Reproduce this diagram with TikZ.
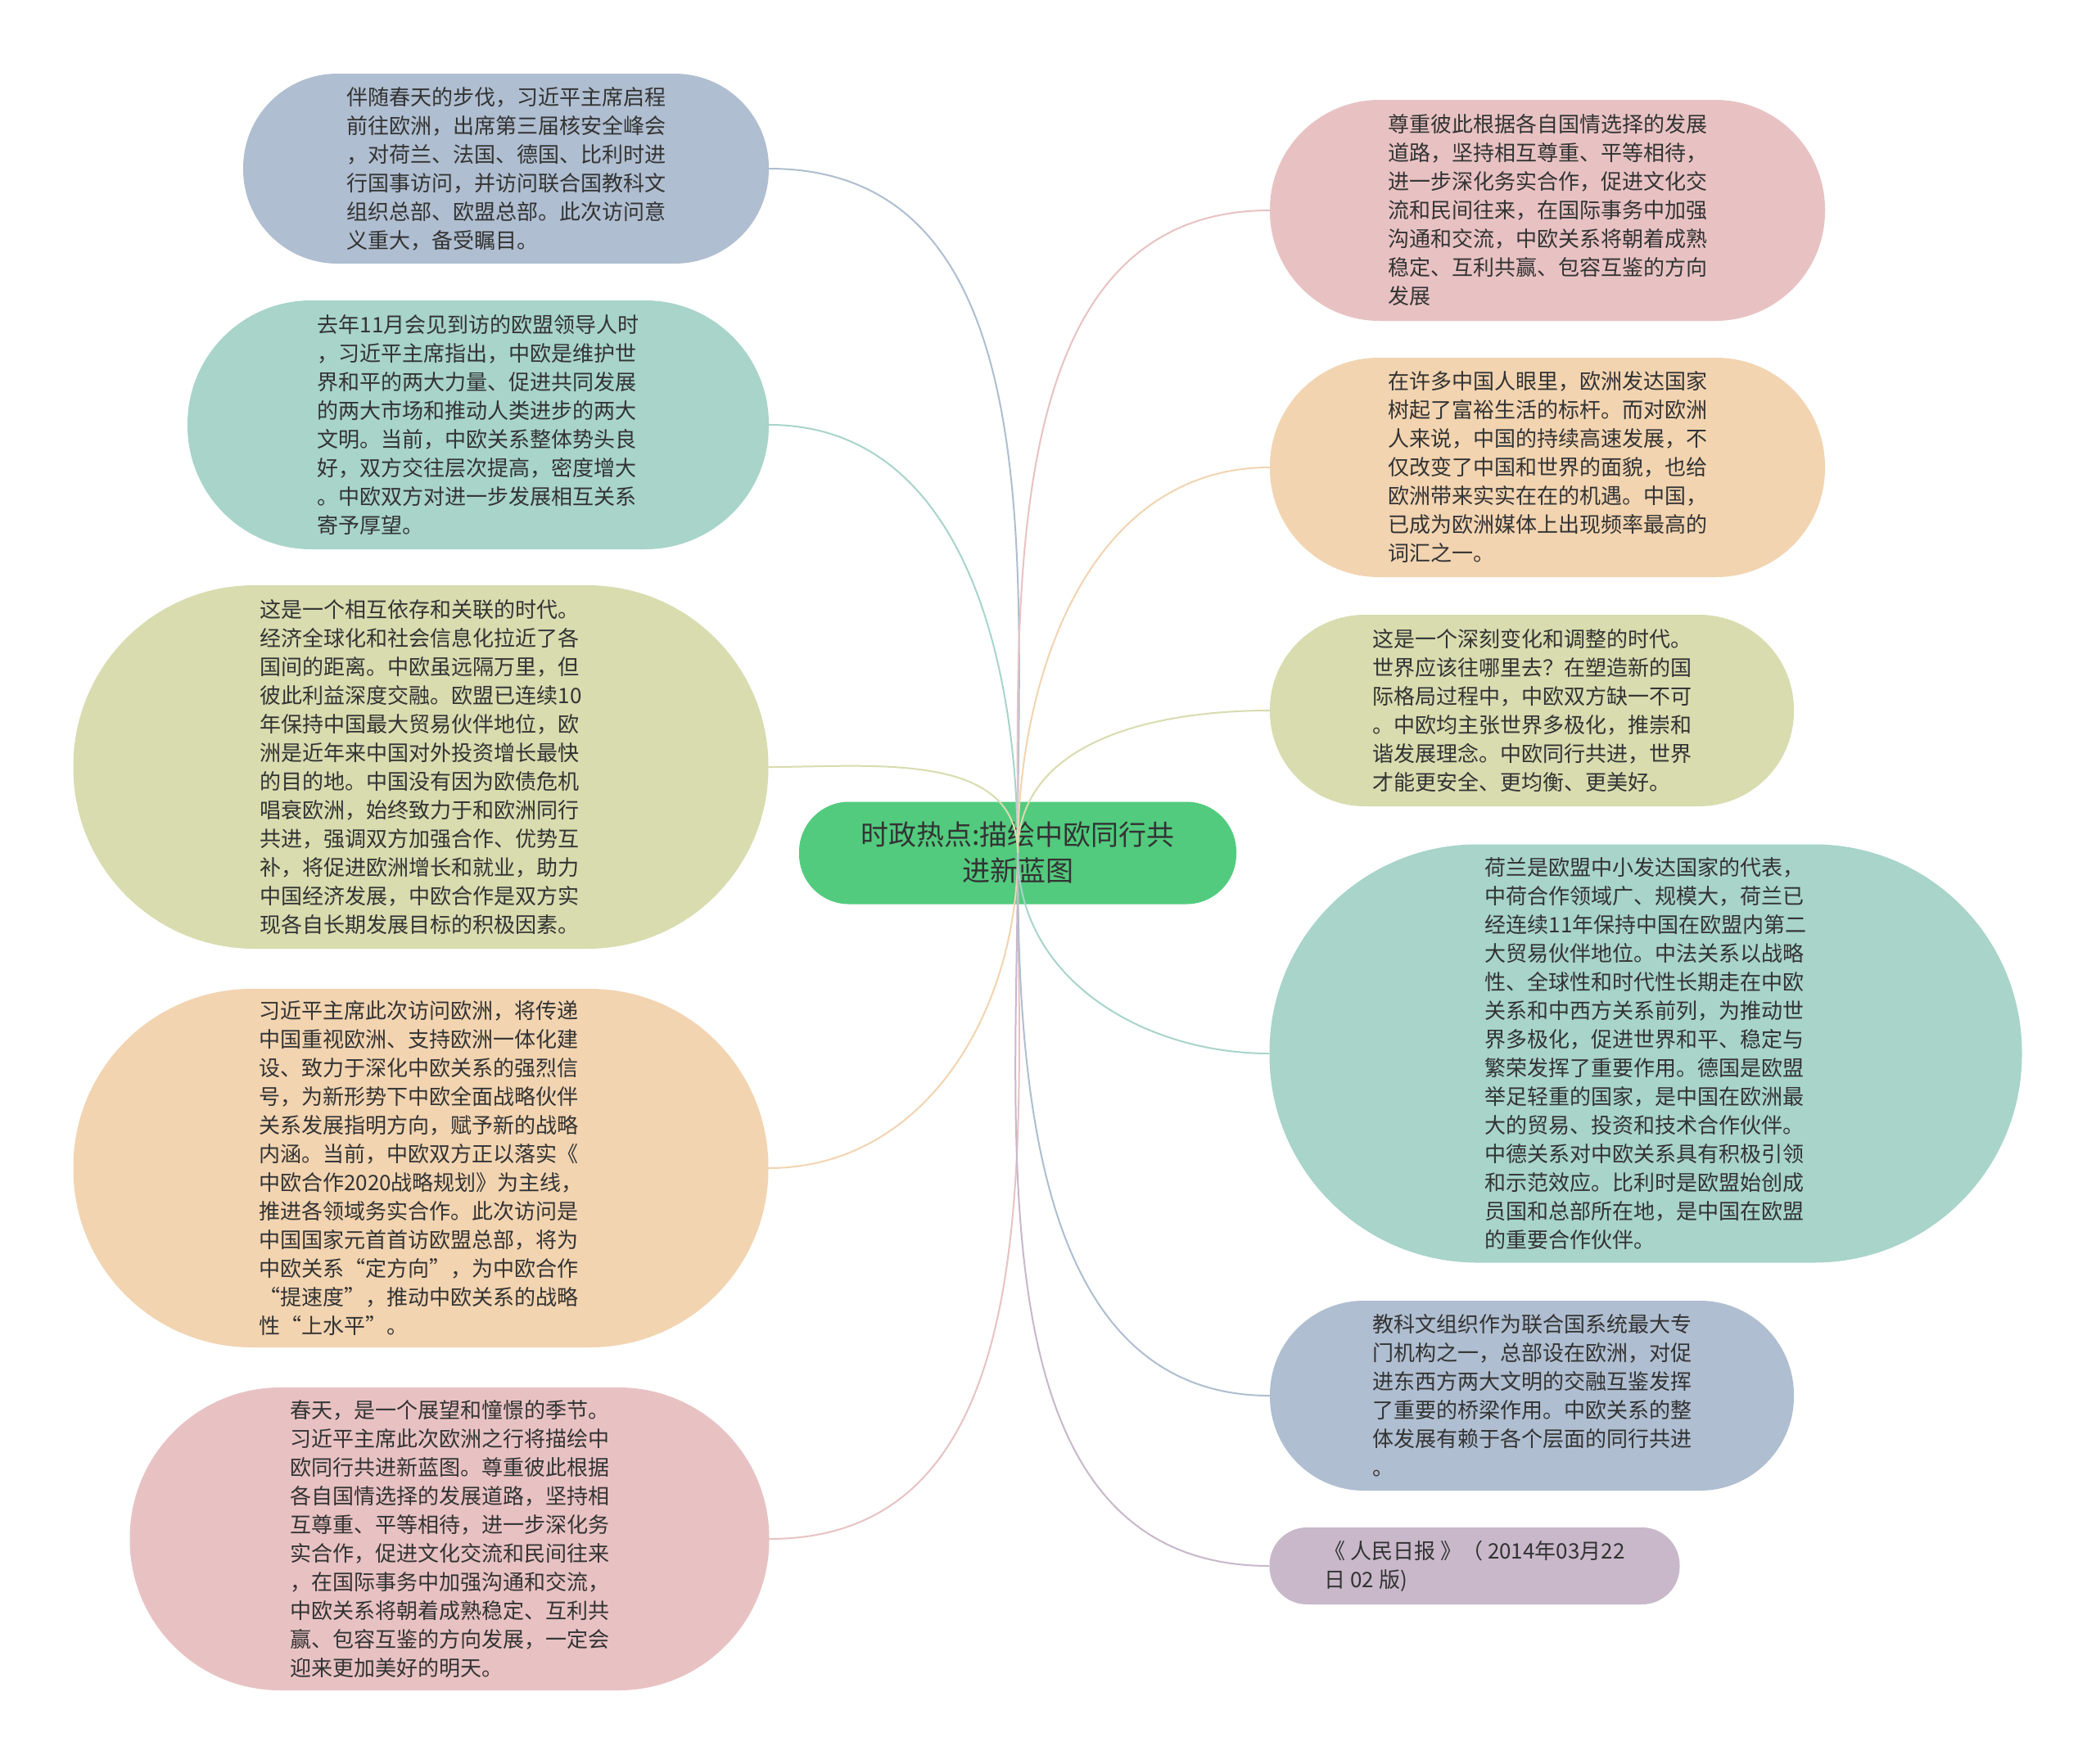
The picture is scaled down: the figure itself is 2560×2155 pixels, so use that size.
\documentclass[tikz,border=0pt]{standalone}
\usepackage{fontspec}
\setmainfont{Noto Sans CJK SC}
\definecolor{BlueGrey}{HTML}{AFBED0}
\definecolor{TealLight}{HTML}{A8D4CA}
\definecolor{OliveLight}{HTML}{D8DCAF}
\definecolor{PeachLight}{HTML}{F2D4B1}
\definecolor{PinkLight}{HTML}{E8C2C3}
\definecolor{Mauve}{HTML}{C8B8CA}
\definecolor{TopicGreen}{HTML}{52CB7E}
\definecolor{DarkGray}{HTML}{333333}
\usepackage{tikz}
\usetikzlibrary{positioning}

\begin{document}
\begin{tikzpicture}[
  x=1pt, y=-1pt,
  bubble/.style={rectangle, inner sep=0pt, align=left, text=DarkGray,
                 font=\fontsize{26}{35}\selectfont},
  topic/.style={rectangle, inner sep=0pt, align=center, text=DarkGray, fill=TopicGreen,
                font=\fontsize{34}{44}\selectfont},
  link/.style={line width=2pt}
]
  \fill[white] (0,0) rectangle (2560,2155);
  \useasboundingbox (0,0) rectangle (2560,2155);

  \node[topic, minimum width=534pt, minimum height=125pt, rounded corners=61pt] (topic) at (1243,1042)
    {时政热点:描绘中欧同行共\\进新蓝图};

  % left side
  \node[bubble, fill=BlueGrey, minimum width=642pt, minimum height=232pt, rounded corners=115pt] (left1) at (618,206)
    {伴随春天的步伐，习近平主席启程\\前往欧洲，出席第三届核安全峰会\\，对荷兰、法国、德国、比利时进\\行国事访问，并访问联合国教科文\\组织总部、欧盟总部。此次访问意\\义重大，备受瞩目。};
  \node[bubble, fill=TealLight, minimum width=710pt, minimum height=304pt, rounded corners=151pt] (left2) at (584,519)
    {去年11月会见到访的欧盟领导人时\\，习近平主席指出，中欧是维护世\\界和平的两大力量、促进共同发展\\的两大市场和推动人类进步的两大\\文明。当前，中欧关系整体势头良\\好，双方交往层次提高，密度增大\\。中欧双方对进一步发展相互关系\\寄予厚望。};
  \node[bubble, fill=OliveLight, minimum width=849pt, minimum height=444pt, rounded corners=221pt] (left3) at (514,937)
    {这是一个相互依存和关联的时代。\\经济全球化和社会信息化拉近了各\\国间的距离。中欧虽远隔万里，但\\彼此利益深度交融。欧盟已连续10\\年保持中国最大贸易伙伴地位，欧\\洲是近年来中国对外投资增长最快\\的目的地。中国没有因为欧债危机\\唱衰欧洲，始终致力于和欧洲同行\\共进，强调双方加强合作、优势互\\补，将促进欧洲增长和就业，助力\\中国经济发展，中欧合作是双方实\\现各自长期发展目标的积极因素。};
  \node[bubble, fill=PeachLight, minimum width=849pt, minimum height=438pt, rounded corners=218pt] (left4) at (514,1427)
    {习近平主席此次访问欧洲，将传递\\中国重视欧洲、支持欧洲一体化建\\设、致力于深化中欧关系的强烈信\\号，为新形势下中欧全面战略伙伴\\关系发展指明方向，赋予新的战略\\内涵。当前，中欧双方正以落实《\\中欧合作2020战略规划》为主线，\\推进各领域务实合作。此次访问是\\中国国家元首首访欧盟总部，将为\\中欧关系“定方向”，为中欧合作\\“提速度”，推动中欧关系的战略\\性“上水平”。};
  \node[bubble, fill=PinkLight, minimum width=781pt, minimum height=370pt, rounded corners=184pt] (left5) at (549,1880)
    {春天，是一个展望和憧憬的季节。\\习近平主席此次欧洲之行将描绘中\\欧同行共进新蓝图。尊重彼此根据\\各自国情选择的发展道路，坚持相\\互尊重、平等相待，进一步深化务\\实合作，促进文化交流和民间往来\\，在国际事务中加强沟通和交流，\\中欧关系将朝着成熟稳定、互利共\\赢、包容互鉴的方向发展，一定会\\迎来更加美好的明天。};

  % right side
  \node[bubble, fill=PinkLight, minimum width=678pt, minimum height=270pt, rounded corners=134pt] (right1) at (1890,257)
    {尊重彼此根据各自国情选择的发展\\道路，坚持相互尊重、平等相待，\\进一步深化务实合作，促进文化交\\流和民间往来，在国际事务中加强\\沟通和交流，中欧关系将朝着成熟\\稳定、互利共赢、包容互鉴的方向\\发展};
  \node[bubble, fill=PeachLight, minimum width=678pt, minimum height=268pt, rounded corners=133pt] (right2) at (1890,571)
    {在许多中国人眼里，欧洲发达国家\\树起了富裕生活的标杆。而对欧洲\\人来说，中国的持续高速发展，不\\仅改变了中国和世界的面貌，也给\\欧洲带来实实在在的机遇。中国，\\已成为欧洲媒体上出现频率最高的\\词汇之一。};
  \node[bubble, fill=OliveLight, minimum width=640pt, minimum height=234pt, rounded corners=116pt] (right3) at (1871,868)
    {这是一个深刻变化和调整的时代。\\世界应该往哪里去？在塑造新的国\\际格局过程中，中欧双方缺一不可\\。中欧均主张世界多极化，推崇和\\谐发展理念。中欧同行共进，世界\\才能更安全、更均衡、更美好。};
  \node[bubble, fill=TealLight, minimum width=919pt, minimum height=511pt, rounded corners=254pt] (right4) at (2010,1287)
    {荷兰是欧盟中小发达国家的代表，\\中荷合作领域广、规模大，荷兰已\\经连续11年保持中国在欧盟内第二\\大贸易伙伴地位。中法关系以战略\\性、全球性和时代性长期走在中欧\\关系和中西方关系前列，为推动世\\界多极化，促进世界和平、稳定与\\繁荣发挥了重要作用。德国是欧盟\\举足轻重的国家，是中国在欧洲最\\大的贸易、投资和技术合作伙伴。\\中德关系对中欧关系具有积极引领\\和示范效应。比利时是欧盟始创成\\员国和总部所在地，是中国在欧盟\\的重要合作伙伴。};
  \node[bubble, fill=BlueGrey, minimum width=640pt, minimum height=232pt, rounded corners=115pt] (right5) at (1871,1705)
    {教科文组织作为联合国系统最大专\\门机构之一，总部设在欧洲，对促\\进东西方两大文明的交融互鉴发挥\\了重要的桥梁作用。中欧关系的整\\体发展有赖于各个层面的同行共进\\。};
  \node[bubble, fill=Mauve, minimum width=501pt, minimum height=94pt, rounded corners=46pt] (right6) at (1801,1913)
    {《 人民日报 》（ 2014年03月22\\日 02 版)};

  % connectors
  \draw[link, BlueGrey] (topic.center) to[out=90, in=0] (left1.east);
  \draw[link, TealLight] (topic.center) to[out=90, in=0] (left2.east);
  \draw[link, OliveLight] (topic.center) to[out=90, in=0] (left3.east);
  \draw[link, PeachLight] (topic.center) to[out=-90, in=0] (left4.east);
  \draw[link, PinkLight] (topic.center) to[out=-90, in=0] (left5.east);
  \draw[link, PinkLight] (topic.center) to[out=90, in=180] (right1.west);
  \draw[link, PeachLight] (topic.center) to[out=90, in=180] (right2.west);
  \draw[link, OliveLight] (topic.center) to[out=90, in=180] (right3.west);
  \draw[link, TealLight] (topic.center) to[out=-90, in=180] (right4.west);
  \draw[link, BlueGrey] (topic.center) to[out=-90, in=180] (right5.west);
  \draw[link, Mauve] (topic.center) to[out=-90, in=180] (right6.west);
\end{tikzpicture}
\end{document}
